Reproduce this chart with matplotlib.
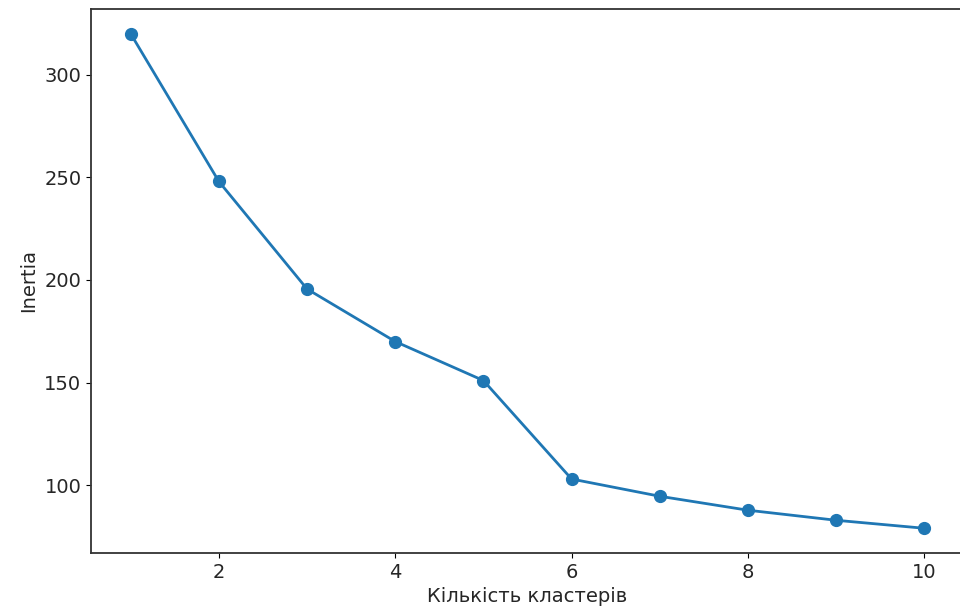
import matplotlib
matplotlib.use('Agg')
import matplotlib.pyplot as plt

clusters = [1, 2, 3, 4, 5, 6, 7, 8, 9, 10]
inertia = [320, 248, 195.6, 170, 151, 103, 94.6, 87.8, 82.9, 79]

font = {'size': 14}
matplotlib.rc('font', **font)

fig = plt.figure(figsize=(9.6, 6.15), dpi=100)
ax = fig.add_axes([91 / 960, 1 - 553 / 615, (964 - 91) / 960, (553 - 9) / 615])
ax.plot(clusters, inertia, '-o', color='#1f77b4', linewidth=2, markersize=8.5)
ax.set_xlabel('Кількість кластерів', color='#262626')
ax.set_ylabel('Inertia', color='#262626')
ax.tick_params(labelcolor='#262626')
for s in ax.spines.values():
    s.set_linewidth(1.3)
    s.set_color('#333333')
ax.spines['right'].set_visible(False)
fig.savefig('out.png', dpi=100)
